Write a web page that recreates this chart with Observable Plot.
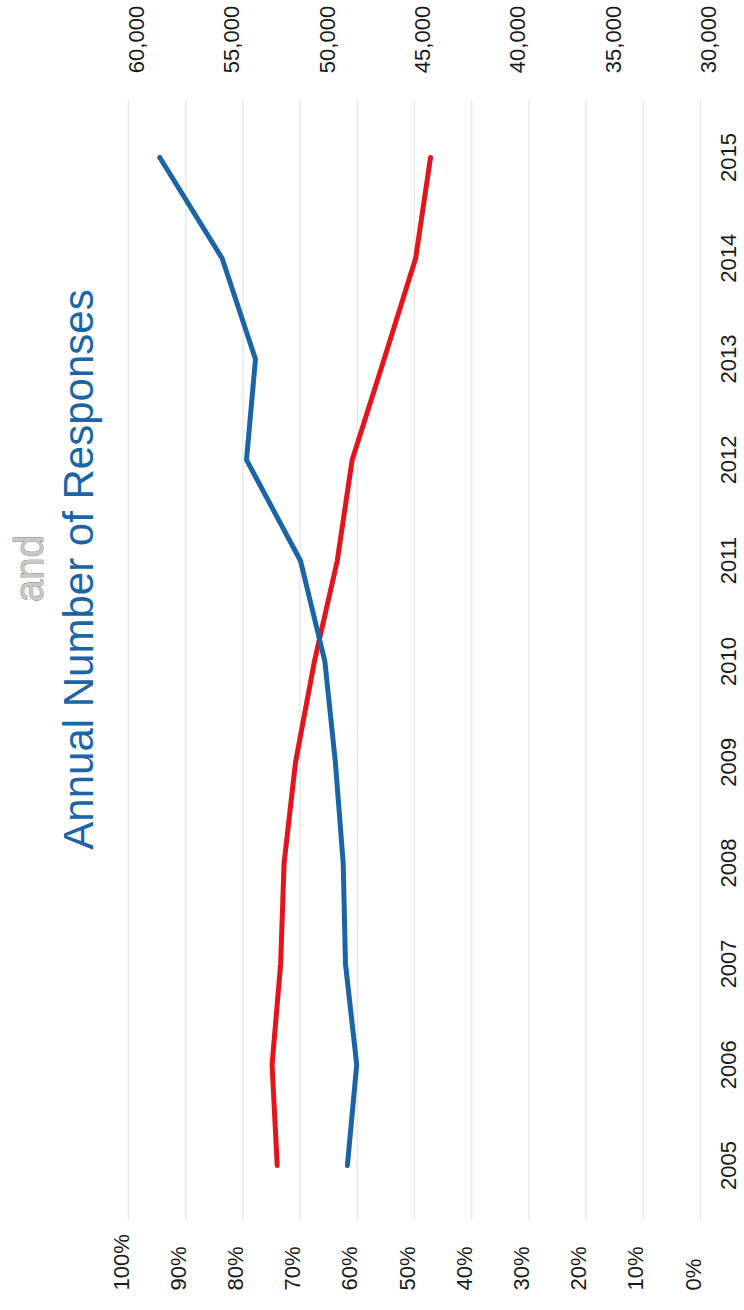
<!DOCTYPE html>
<html>
<head>
<meta charset="utf-8">
<script src="https://cdn.jsdelivr.net/npm/d3@7"></script>
<script src="https://cdn.jsdelivr.net/npm/@observablehq/plot@0.6"></script>
<style>
  html, body { margin: 0; padding: 0; background: #fff; }
  #chart svg { display: block; }
</style>
</head>
<body>
<div id="chart"></div>
<script>
// ---- data ----
const years = [2005, 2006, 2007, 2008, 2009, 2010, 2011, 2012, 2013, 2014, 2015];
const percentSeries = [0.740, 0.749, 0.734, 0.728, 0.708, 0.675, 0.635, 0.609, 0.553, 0.498, 0.472];
const responsesSeries = [48520, 48030, 48620, 48740, 49150, 49700, 50980, 53810, 53340, 55090, 58360];

const percentTicks = [0, 0.1, 0.2, 0.3, 0.4, 0.5, 0.6, 0.7, 0.8, 0.9, 1.0];
const percentTickLabels = ["0%", "10%", "20%", "30%", "40%", "50%", "60%", "70%", "80%", "90%", "100%"];
const responseTicks = [30000, 35000, 40000, 45000, 50000, 55000, 60000];
const responseTickLabels = ["30,000", "35,000", "40,000", "45,000", "50,000", "55,000", "60,000"];
const responseMin = 30000, responseMax = 60000;

const titleLine1 = "and";
const titleLine2 = "Annual Number of Responses";

// ---- build ----
const toShare = r => (r - responseMin) / (responseMax - responseMin);
const redData = years.map((y, i) => ({year: y, value: percentSeries[i]}));
const blueData = years.map((y, i) => ({year: y, value: toShare(responsesSeries[i])}));

const font = "'Liberation Sans', Arial, Helvetica, sans-serif";

const chart = Plot.plot({
  width: 744,
  height: 1310,
  marginLeft: 128,
  marginRight: 44,
  marginTop: 100,
  marginBottom: 90,
  style: {fontFamily: font, background: "#fff"},
  x: {domain: [0, 1], reverse: true, axis: null},
  y: {domain: [2005, 2015], insetTop: 57, insetBottom: 55, axis: null},
  marks: [
    Plot.ruleX(percentTicks, {x: d => d, stroke: "#e6e6e6", strokeWidth: 1.3}),
    Plot.line(redData, {x: "value", y: "year", stroke: "#e3141c", strokeWidth: 5, strokeLinejoin: "round", strokeLinecap: "round"}),
    Plot.line(blueData, {x: "value", y: "year", stroke: "#1b65a7", strokeWidth: 5, strokeLinejoin: "round", strokeLinecap: "round"}),
    // percent labels (bottom)
    Plot.text(percentTicks, {x: d => d, text: (d, i) => percentTickLabels[i], frameAnchor: "bottom", dy: 70, rotate: -90, textAnchor: "start", fontSize: 22, fill: "#1a1a1a"}),
    // response labels (top)
    Plot.text(responseTicks, {x: d => toShare(d), text: (d, i) => responseTickLabels[i], frameAnchor: "top", dy: -61, rotate: -90, textAnchor: "middle", fontSize: 22, fill: "#1a1a1a"}),
    // year labels (right)
    Plot.text(years, {y: d => d, text: d => String(d), frameAnchor: "right", dx: 28, rotate: -90, textAnchor: "middle", fontSize: 22, fill: "#1a1a1a"}),
    // title
    Plot.text([titleLine2], {text: d => d, frameAnchor: "left", dx: -36, dy: -91, rotate: -90, textAnchor: "middle", lineAnchor: "bottom", fontSize: 42, fill: "#1b65a7"}),
    Plot.text([titleLine1], {text: d => d, frameAnchor: "left", dx: -86, dy: -92, rotate: -90, textAnchor: "middle", lineAnchor: "bottom", fontSize: 40, fill: "#c8c8c8", stroke: "#666", strokeWidth: 0.7})
  ]
});
document.getElementById("chart").appendChild(chart);
</script>
</body>
</html>
